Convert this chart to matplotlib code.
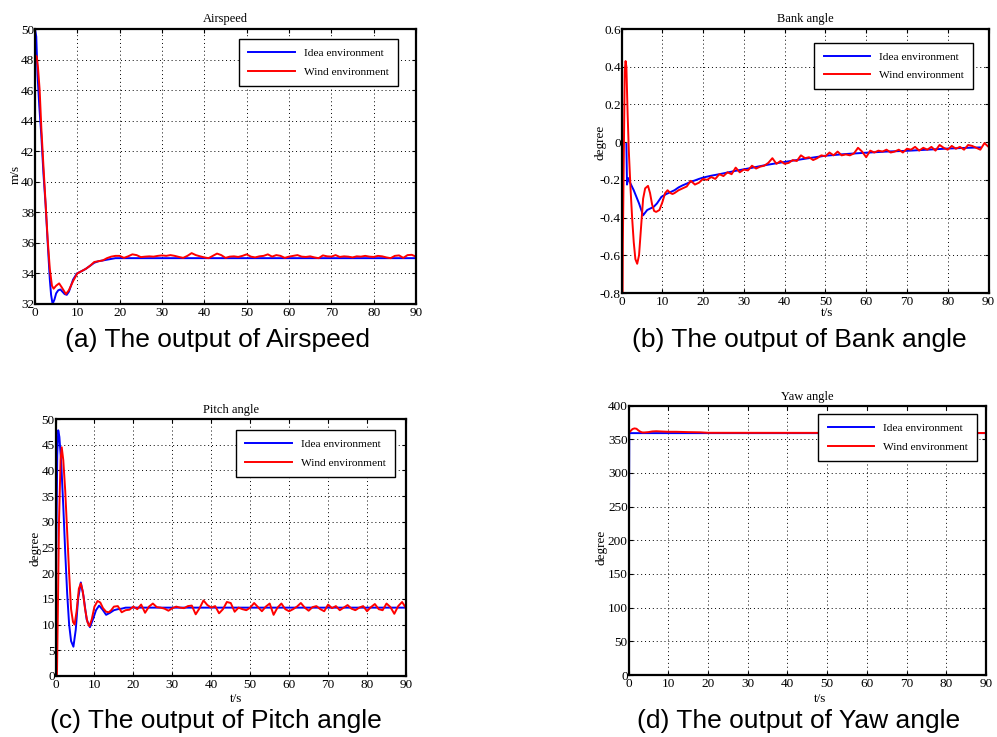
import matplotlib
matplotlib.use("Agg")
import matplotlib.pyplot as plt
from matplotlib.ticker import FuncFormatter

plt.rcParams['font.family'] = ['Liberation Serif', 'DejaVu Serif']
plt.rcParams['axes.unicode_minus'] = False

# ---------------- Data ----------------
# (a) Airspeed
as_ideal_t = [0, 0.3, 0.6, 1, 1.5, 2, 2.5, 3, 3.5, 3.8, 4.15, 4.6, 5.0, 5.5, 6.0, 6.5, 7.0, 7.5, 8.0, 8.5,
              9.0, 9.9, 11, 12, 13, 14, 15, 16, 17, 18, 19, 20, 90]
as_ideal_v = [50, 49.5, 47, 45, 43, 40.5, 38.5, 36, 33.6, 32.6, 32.0, 32.3, 32.7, 32.9, 32.95, 32.8, 32.65, 32.6,
              32.8, 33.2, 33.6, 34.0, 34.15, 34.3, 34.5, 34.7, 34.8, 34.85, 34.9, 34.95, 35.0, 35.0, 35.0]
as_wind_t = [0, 0.4, 0.7, 1.1, 1.5, 2, 2.5, 3, 3.5, 4, 4.4, 5, 5.7, 6.3, 7.3, 8, 9, 10, 11, 12, 13, 14, 15,
             16, 17, 18, 19] + list(range(20, 91))
as_wind_v = [48.3, 48.2, 47.5, 46, 43.5, 41, 38.6, 36.2, 34.3, 33.2, 33.0, 33.2, 33.35, 33.1, 32.65, 32.9, 33.5,
             34.0, 34.15, 34.3, 34.5, 34.75, 34.8, 34.85, 35.0, 35.1, 35.15,
             35.15, 35.02, 35.12, 35.25, 35.2, 35.07, 35.1, 35.12, 35.1, 35.15,
             35.18, 35.15, 35.2, 35.15, 35.08, 35.02, 35.15, 35.33, 35.2, 35.12,
             35.05, 35.0, 35.15, 35.3, 35.2, 35.02, 35.1, 35.12, 35.08, 35.15,
             35.25, 35.1, 35.05, 35.12, 35.15, 35.25, 35.1, 35.2, 35.15, 35.02,
             35.1, 35.15, 35.2, 35.1, 35.08, 35.12, 35.05, 35.0, 35.18, 35.12,
             35.1, 35.2, 35.08, 35.12, 35.1, 35.05, 35.12, 35.1, 35.15, 35.1,
             35.08, 35.15, 35.12, 35.05, 35.0, 35.15, 35.18, 35.02, 35.2, 35.22, 35.1]

# (b) Bank angle
bk_ideal_t = [1.2, 1.35, 1.6, 2.0, 3.0, 4.3, 5.3, 6.3, 7.9, 8.7, 9.8, 11, 12, 13, 14, 15, 16, 17, 18, 19, 20,
              22, 24, 26, 28, 30, 32, 35, 38, 40, 45, 50, 55, 60, 65, 70, 75, 80, 85, 88]
bk_ideal_v = [-0.01, -0.225, -0.19, -0.21, -0.255, -0.325, -0.388, -0.36, -0.343, -0.325, -0.29, -0.275,
              -0.265, -0.255, -0.24, -0.229, -0.22, -0.21, -0.203, -0.195, -0.188, -0.178, -0.17, -0.161,
              -0.152, -0.144, -0.136, -0.123, -0.112, -0.105, -0.088, -0.072, -0.063, -0.056, -0.05,
              -0.046, -0.04, -0.034, -0.03, -0.028]
bk_wind_t = [0, 0.2, 0.5, 0.8, 1.0, 1.2, 1.5, 1.8, 2.2, 2.6, 3.0, 3.4, 3.85, 4.3, 4.8, 5.3, 5.8, 6.5, 7.0,
             7.5, 8.0, 8.5, 9.3, 10.0, 10.7, 11.3, 12.0, 12.5] + list(range(13, 91))
bk_wind_v = [-0.05, -0.8, -0.2, 0.38, 0.43, 0.4, 0.15, -0.05, -0.24, -0.4, -0.53, -0.62, -0.645, -0.6,
             -0.45, -0.3, -0.245, -0.232, -0.27, -0.33, -0.365, -0.37, -0.36, -0.32, -0.27, -0.255, -0.27,
             -0.275,
             -0.27, -0.255, -0.245, -0.235, -0.205, -0.225, -0.215, -0.195, -0.2, -0.185,
             -0.195, -0.17, -0.18, -0.16, -0.17, -0.135, -0.16, -0.145, -0.15, -0.125,
             -0.14, -0.13, -0.125, -0.11, -0.085, -0.115, -0.1, -0.115, -0.11, -0.095,
             -0.1, -0.07, -0.085, -0.08, -0.095, -0.085, -0.07, -0.075, -0.055, -0.07,
             -0.05, -0.07, -0.065, -0.07, -0.06, -0.03, -0.05, -0.08, -0.045, -0.055,
             -0.045, -0.05, -0.04, -0.055, -0.05, -0.04, -0.055, -0.035, -0.04, -0.025,
             -0.045, -0.03, -0.04, -0.025, -0.045, -0.015, -0.03, -0.04, -0.02, -0.035,
             -0.025, -0.04, -0.015, -0.02, -0.03, -0.04, -0.005, -0.025]

# (c) Pitch angle
pt_ideal_t = [0, 0.2, 0.45, 0.7, 1.0, 1.5, 2.0, 2.5, 3.0, 3.5, 4.0, 4.6, 5.2, 5.8, 6.5, 7.2, 8.0, 8.85, 9.6,
              10.4, 11.2, 12.1, 13.0, 14, 15, 16, 17, 18, 90]
pt_ideal_v = [0, 25, 43, 47.8, 46.5, 41, 33, 24, 16, 10, 6.8, 5.7, 9, 15, 18.2, 15.5, 11, 9.5, 11, 12.8,
              13.7, 12.9, 11.9, 12.3, 12.8, 13.0, 13.1, 13.3, 13.3]
pt_wind_t = [0, 0.35, 0.6, 0.9, 1.3, 1.6, 2.0, 2.5, 3.0, 3.5, 4.0, 4.5, 4.9, 5.4, 6.0, 6.5, 7.0, 7.6, 8.2,
             8.7, 9.3, 10.0, 10.8, 11.5, 12.2, 13.0, 13.7, 14.3] + list(range(15, 91))
pt_wind_v = [0, -1, 12, 30, 42, 44.5, 42, 36, 28, 20, 13, 10.5, 10, 12.5, 17, 18, 16.5, 13, 10.5, 9.7, 11,
             13.5, 14.6, 14.3, 13.2, 12.5, 12.4, 12.8,
             13.5, 13.6, 12.4, 12.8, 12.9, 13.5, 13.0, 13.9, 12.3, 13.5,
             14.1, 13.4, 13.3, 13.1, 12.7, 13.2, 13.5, 13.3, 13.2, 13.6,
             13.7, 12.0, 13.2, 14.7, 13.8, 13.3, 13.6, 12.2, 13.0, 14.4,
             14.2, 12.5, 13.3, 13.0, 12.8, 13.3, 14.2, 13.4, 12.6, 13.5,
             14.1, 11.9, 13.3, 14.1, 13.0, 12.6, 13.0, 13.5, 14.2, 13.3,
             12.7, 13.4, 13.6, 13.0, 12.6, 13.9, 13.2, 13.6, 12.8, 13.3,
             13.8, 13.1, 12.8, 13.3, 13.6, 12.6, 13.4, 14.0, 13.0, 12.8,
             14.1, 13.4, 12.1, 13.6, 14.4, 13.2]

# (d) Yaw angle
yw_ideal_t = [0, 0.2, 90]
yw_ideal_v = [0, 359, 359]
yw_wind_t = [0, 0.5, 1, 1.5, 2, 2.5, 3, 3.5, 4, 5, 6, 7, 8, 10, 12, 15, 18, 20, 90]
yw_wind_v = [359, 362, 365, 366, 365.5, 363, 361, 360, 360, 360.5, 361.5, 361.8, 361.5, 361, 361, 360.5,
             360.2, 359.5, 359.2]

legend_labels = ["Idea environment", "Wind environment"]
titles = ["Airspeed", "Bank angle", "Pitch angle", "Yaw angle"]
captions = ["(a) The output of Airspeed", "(b) The output of Bank angle",
            "(c) The output of Pitch angle", "(d) The output of Yaw angle"]

# ---------------- Figure ----------------
W, H = 997, 737
fig = plt.figure(figsize=(W / 100, H / 100), dpi=100)


def px_axes(l, t, r, b):
    return fig.add_axes([l / W, 1 - b / H, (r - l) / W, (b - t) / H])


def style(ax, ylim, yticks):
    ax.set_xlim(0, 90)
    ax.set_xticks(range(0, 91, 10))
    ax.set_ylim(*ylim)
    ax.set_yticks(yticks)
    ax.yaxis.set_major_formatter(FuncFormatter(lambda v, p: "%g" % round(v, 6)))
    ax.grid(True, color='black', linestyle=(0, (1, 3)), linewidth=0.7)
    ax.tick_params(direction='in', top=True, right=True, length=3, width=0.8, labelsize=9.5)
    ax.tick_params(axis='y', pad=0.5)
    ax.tick_params(axis='x', pad=2.5)
    for s in ax.spines.values():
        s.set_linewidth(1.6)
        s.set_color('black')


def legend(ax, xr, yt):
    leg = ax.legend(legend_labels, loc='upper right', bbox_to_anchor=(xr / W, 1 - yt / H),
                    bbox_transform=fig.transFigure, borderaxespad=0, fancybox=False, framealpha=1,
                    edgecolor='black', fontsize=8.2, handlelength=4.1, handletextpad=0.8,
                    labelspacing=0.75, borderpad=0.8)
    leg.get_frame().set_linewidth(1.0)


blue = (0, 0, 1)
red = (1, 0, 0)
lw = 1.4

# (a)
ax1 = px_axes(35, 29, 416, 304)
ax1.plot(as_ideal_t, as_ideal_v, color=blue, lw=lw)
ax1.plot(as_wind_t, as_wind_v, color=red, lw=lw)
style(ax1, (32, 50), range(32, 51, 2))
ax1.set_title(titles[0], fontsize=9, pad=5)
ax1.set_ylabel("m/s", fontsize=9.5)
ax1.yaxis.set_label_coords(-0.035, 0.47)
legend(ax1, 398, 39)

# (b)
ax2 = px_axes(621.5, 29, 988.5, 293)
ax2.plot(bk_ideal_t, bk_ideal_v, color=blue, lw=lw)
ax2.plot(bk_wind_t, bk_wind_v, color=red, lw=lw)
style(ax2, (-0.8, 0.6), [-0.8, -0.6, -0.4, -0.2, 0, 0.2, 0.4, 0.6])
ax2.set_title(titles[1], fontsize=9, pad=5)
ax2.set_ylabel("degree", fontsize=9.5)
ax2.yaxis.set_label_coords(-0.042, 0.572)
ax2.set_xlabel("t/s", fontsize=9.5)
ax2.xaxis.set_label_coords(0.56, -0.053)
legend(ax2, 973.3, 42.7)

# (c)
ax3 = px_axes(55.5, 419, 406, 676)
ax3.plot(pt_ideal_t, pt_ideal_v, color=blue, lw=lw)
ax3.plot(pt_wind_t, pt_wind_v, color=red, lw=lw)
style(ax3, (0, 50), range(0, 51, 5))
ax3.set_title(titles[2], fontsize=9, pad=4)
ax3.set_ylabel("degree", fontsize=9.5)
ax3.yaxis.set_label_coords(-0.041, 0.498)
ax3.set_xlabel("t/s", fontsize=9.5)
ax3.xaxis.set_label_coords(0.515, -0.066)
legend(ax3, 395, 430)

# (d)
ax4 = px_axes(628.5, 405.5, 986, 675)
ax4.plot(yw_ideal_t, yw_ideal_v, color=blue, lw=lw)
ax4.plot(yw_wind_t, yw_wind_v, color=red, lw=lw)
style(ax4, (0, 400), range(0, 401, 50))
ax4.set_title(titles[3], fontsize=9, pad=4)
ax4.set_ylabel("degree", fontsize=9.5)
ax4.yaxis.set_label_coords(-0.058, 0.475)
ax4.set_xlabel("t/s", fontsize=9.5)
ax4.xaxis.set_label_coords(0.536, -0.067)
legend(ax4, 977.3, 414.3)

# captions
cap_pos = [(217, 340), (799, 340), (216, 721), (799, 721)]
for (cx, cy), txt in zip(cap_pos, captions):
    fig.text(cx / W, 1 - cy / H, txt, ha='center', va='center', fontsize=19,
             family=['Liberation Sans', 'DejaVu Sans'])

fig.savefig("out.png", dpi=100)
